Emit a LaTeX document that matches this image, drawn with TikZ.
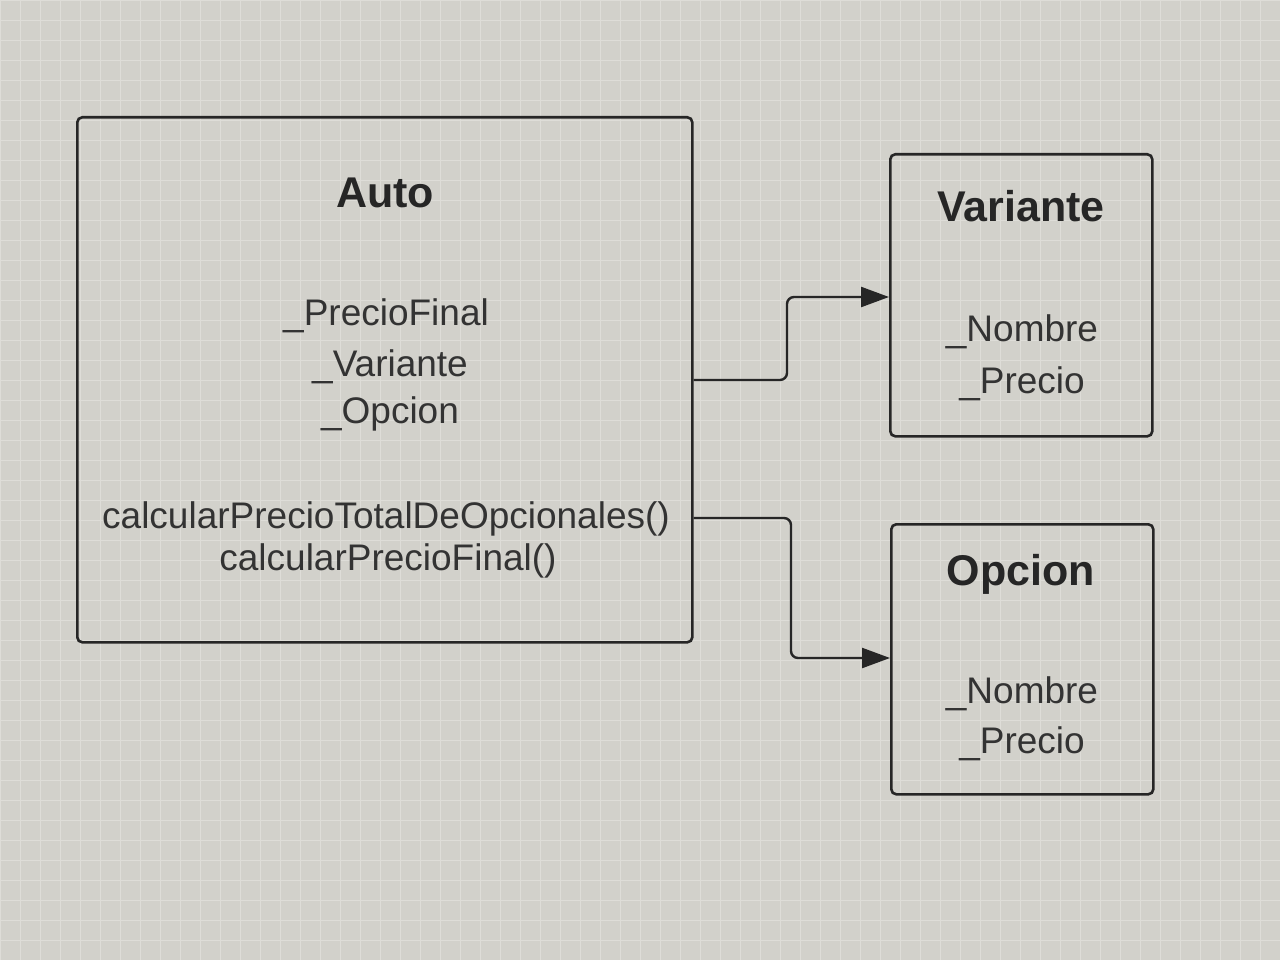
\documentclass[tikz,border=0pt]{standalone}
\usepackage{fontspec}
\setmainfont{Liberation Sans}
\usetikzlibrary{arrows.meta}
\definecolor{bgcol}{RGB}{210,209,203}
\definecolor{gridcol}{RGB}{222,221,216}
\begin{document}
\begin{tikzpicture}[x=1pt,y=-1pt,
  classbox/.style={draw=black!85,line width=2.6pt,rounded corners=5pt,fill=none},
  title/.style={font=\fontsize{43}{50}\selectfont\bfseries,text=black!85,anchor=base,inner sep=0pt},
  member/.style={font=\fontsize{37}{44}\selectfont,text=black!80,anchor=base,inner sep=0pt},
  conn/.style={draw=black!85,line width=2.4pt,rounded corners=7pt,-{Triangle[length=28pt,width=20pt]}}]
\useasboundingbox (0,0) rectangle (1280,960);
\fill[bgcol] (0,0) rectangle (1280,960);
\foreach \gx in {0,20,...,1280} \draw[gridcol,line width=0.8pt] (\gx,0) -- (\gx,960);
\foreach \gy in {0,20,...,960} \draw[gridcol,line width=0.8pt] (0,\gy) -- (1280,\gy);
% boxes
\node[classbox,minimum width=615pt,minimum height=525pt,anchor=north west] (auto) at (76,116) {};
\node[classbox,minimum width=262pt,minimum height=282pt,anchor=north west] (variante) at (889,153) {};
\node[classbox,minimum width=262pt,minimum height=270pt,anchor=north west] (opcion) at (890,523) {};
% Auto texts
\node[title] (autoT) at (385,208) {Auto};
\node[member] (a1) at (386,325) {\_PrecioFinal};
\node[member] (a2) at (390,376) {\_Variante};
\node[member] (a3) at (390,423) {\_Opcion};
\node[member] (m1) at (386,528) {calcularPrecioTotalDeOpcionales()};
\node[member] (m2) at (388,570) {calcularPrecioFinal()};
% Variante texts
\node[title] (varT) at (1021,222) {Variante};
\node[member] (v1) at (1022,341) {\_Nombre};
\node[member] (v2) at (1022,393) {\_Precio};
% Opcion texts
\node[title] (opT) at (1021,585) {Opcion};
\node[member] (o1) at (1022,703) {\_Nombre};
\node[member] (o2) at (1022,753) {\_Precio};
% connectors
\coordinate (s1) at (auto.east |- 0,380);
\coordinate (e1) at (variante.west |- 0,297);
\coordinate (s2) at (auto.east |- 0,518);
\coordinate (e2) at (opcion.west |- 0,658);
\draw[conn] (s1) -- (787,380) -- (787,297) -- (e1);
\draw[conn] (s2) -- (791,518) -- (791,658) -- (e2);
\end{tikzpicture}
\end{document}
